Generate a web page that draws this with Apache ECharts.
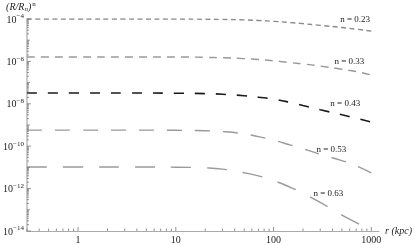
<!DOCTYPE html>
<html><head><meta charset="utf-8">
<script src="https://cdn.jsdelivr.net/npm/echarts@6/dist/echarts.min.js"></script>
<style>html,body{margin:0;padding:0;background:#fff}#c{width:415px;height:245px}</style>
</head><body><div id="c"></div>
<script>
const radii = [0.3, 1, 3, 10, 20, 30, 50, 70, 100, 150, 200, 300, 500, 700, 1000];
const n023 = [1.0e-4, 1.0e-4, 1.0e-4, 1.0e-4, 9.77e-5, 9.55e-5, 9.12e-5, 8.51e-5, 7.76e-5, 6.76e-5, 6.03e-5, 5.01e-5, 3.98e-5, 3.31e-5, 2.69e-5];
const n033 = [1.62e-6, 1.62e-6, 1.62e-6, 1.62e-6, 1.55e-6, 1.48e-6, 1.35e-6, 1.23e-6, 1.07e-6, 8.71e-7, 7.59e-7, 6.03e-7, 4.27e-7, 3.31e-7, 2.29e-7];
const n043 = [3.24e-8, 3.24e-8, 3.24e-8, 3.16e-8, 3.02e-8, 2.82e-8, 2.40e-8, 2.04e-8, 1.66e-8, 1.15e-8, 8.32e-9, 5.25e-9, 3.02e-9, 2.09e-9, 1.38e-9];
const n053 = [5.75e-10, 5.75e-10, 5.75e-10, 5.62e-10, 5.37e-10, 4.90e-10, 3.80e-10, 2.82e-10, 1.91e-10, 1.12e-10, 7.59e-11, 4.17e-11, 2.09e-11, 1.20e-11, 5.50e-12];
const n063 = [1.05e-11, 1.05e-11, 1.05e-11, 1.02e-11, 9.55e-12, 8.32e-12, 5.62e-12, 3.98e-12, 2.40e-12, 1.12e-12, 6.03e-13, 2.24e-13, 5.62e-14, 2.51e-14, 1.0e-14];
const curveNames = ['n = 0.23', 'n = 0.33', 'n = 0.43', 'n = 0.53', 'n = 0.63'];
const labelAt = [[682, 8.9e-5], [596, 9.3e-7], [541, 9.8e-9], [390, 6.6e-11], [363, 5.6e-13]];
const xTickLabels = [1, 10, 100, 1000];
const yTickLabels = [1e-14, 1e-12, 1e-10, 1e-8, 1e-6, 1e-4];

const X_MIN = 0.3, X_MAX = 1200, Y_MIN = 1e-14, Y_MAX = 1e-4;
const serif = '"Liberation Serif", "DejaVu Serif", serif';

// minor tick values (m x 10^k) for decorative axis ticks
const xMinor = [], yMinor = [];
for (let k = -1; k <= 3; k++) for (let m = 1; m <= 9; m++) {
  const v = m * Math.pow(10, k);
  if (v >= X_MIN && v <= X_MAX) xMinor.push([v, Y_MIN, m === 1 ? 4 : 2.5]);
}
for (let k = -14; k <= -5; k++) for (let m = 1; m <= 9; m++) {
  const v = m * Math.pow(10, k);
  if (v >= Y_MIN && v <= Y_MAX) yMinor.push([X_MIN, v, m === 1 ? ((-k) % 2 === 0 ? 4 : 3) : 2]);
}
yMinor.push([X_MIN, Y_MAX, 4]);

const styles = [
  {color: '#8a8a8a', width: 1.4, dash: [5, 3.5]},
  {color: '#9a9a9a', width: 1.4, dash: [8, 6]},
  {color: '#1a1a1a', width: 1.6, dash: [10, 11]},
  {color: '#9a9a9a', width: 1.4, dash: [15, 13]},
  {color: '#9a9a9a', width: 1.4, dash: [20, 16]}
];
const datasets = [n023, n033, n043, n053, n063];

const lineSeries = datasets.map((arr, i) => ({
  type: 'line', name: curveNames[i], smooth: true, symbol: 'none',
  data: radii.map((r, j) => [r, arr[j]]),
  lineStyle: {color: styles[i].color, width: styles[i].width, type: styles[i].dash},
  markPoint: {
    symbol: 'circle', symbolSize: 0, silent: true,
    data: [{coord: labelAt[i], value: curveNames[i]}],
    label: {show: true, position: 'inside', formatter: curveNames[i], color: '#222', fontFamily: serif, fontSize: 9}
  },
  z: 3
}));

function tickRenderer(dir) {
  return function (params, api) {
    const p = api.coord([api.value(0), api.value(1)]);
    const len = api.value(2);
    const shape = dir === 'x' ? {x1: p[0], y1: p[1], x2: p[0], y2: p[1] - len}
                              : {x1: p[0], y1: p[1], x2: p[0] + len, y2: p[1]};
    return {type: 'line', shape: shape, style: {stroke: '#777', lineWidth: 0.8}};
  };
}
// x-axis tick labels at powers of ten, placed through the axis scale
function xLabelRenderer(params, api) {
  const p = api.coord([api.value(0), Y_MIN]);
  return {type: 'text', x: p[0], y: p[1] + 4,
    style: {text: String(api.value(0)), fill: '#222', font: '10px ' + serif, align: 'center', verticalAlign: 'top'}};
}

function powLabel(v) {
  const e = Math.round(Math.log10(v));
  return '{b|10}{s|' + (e < 0 ? '\u2212' + (-e) : e) + '}';
}

const chart = echarts.init(document.getElementById('c'), null, {renderer: 'canvas'});
chart.setOption({
  animation: false,
  backgroundColor: '#fff',
  grid: {left: 25, right: 35, top: 19, bottom: 14, containLabel: false},
  xAxis: {
    type: 'log', min: X_MIN, max: X_MAX,
    name: 'r (kpc)', nameLocation: 'end', nameGap: 6,
    nameTextStyle: {fontFamily: serif, fontStyle: 'italic', fontSize: 10, color: '#222', verticalAlign: 'middle'},
    axisLine: {lineStyle: {color: '#aaaaaa', width: 1}},
    axisTick: {show: false},
    splitLine: {show: false},
    axisLabel: {show: false}
  },
  yAxis: {
    type: 'log', min: Y_MIN, max: Y_MAX, interval: 2,
    name: '{t|(R/R}{sub|n}{t|)}{sup|n}', nameLocation: 'end', nameGap: 6,
    nameTextStyle: {
      align: 'center', padding: [0, 12, 0, 0],
      rich: {
        t: {fontFamily: serif, fontStyle: 'italic', fontSize: 10, color: '#222'},
        sub: {fontFamily: serif, fontStyle: 'italic', fontSize: 7, color: '#222', verticalAlign: 'bottom', padding: [4, 0, 0, 0]},
        sup: {fontFamily: serif, fontSize: 7, color: '#222', verticalAlign: 'top', padding: [0, 0, 5, 1]}
      }
    },
    axisLine: {lineStyle: {color: '#cccccc', width: 2}},
    axisTick: {show: false},
    splitLine: {show: false},
    axisLabel: {
      margin: 3,
      formatter: v => yTickLabels.some(t => Math.abs(Math.log10(v) - Math.log10(t)) < 1e-6) ? powLabel(v) : '',
      rich: {
        b: {fontFamily: serif, fontSize: 10, color: '#222', verticalAlign: 'bottom'},
        s: {fontFamily: serif, fontSize: 7, color: '#222', verticalAlign: 'top', padding: [0, 0, 5, 0]}
      }
    }
  },
  series: lineSeries.concat([
    {type: 'custom', renderItem: tickRenderer('x'), data: xMinor, clip: false, silent: true, z: 5},
    {type: 'custom', renderItem: tickRenderer('y'), data: yMinor, clip: false, silent: true, z: 5},
    {type: 'custom', renderItem: xLabelRenderer, data: xTickLabels.map(v => [v, Y_MIN]), clip: false, silent: true, z: 5}
  ])
});
</script></body></html>
